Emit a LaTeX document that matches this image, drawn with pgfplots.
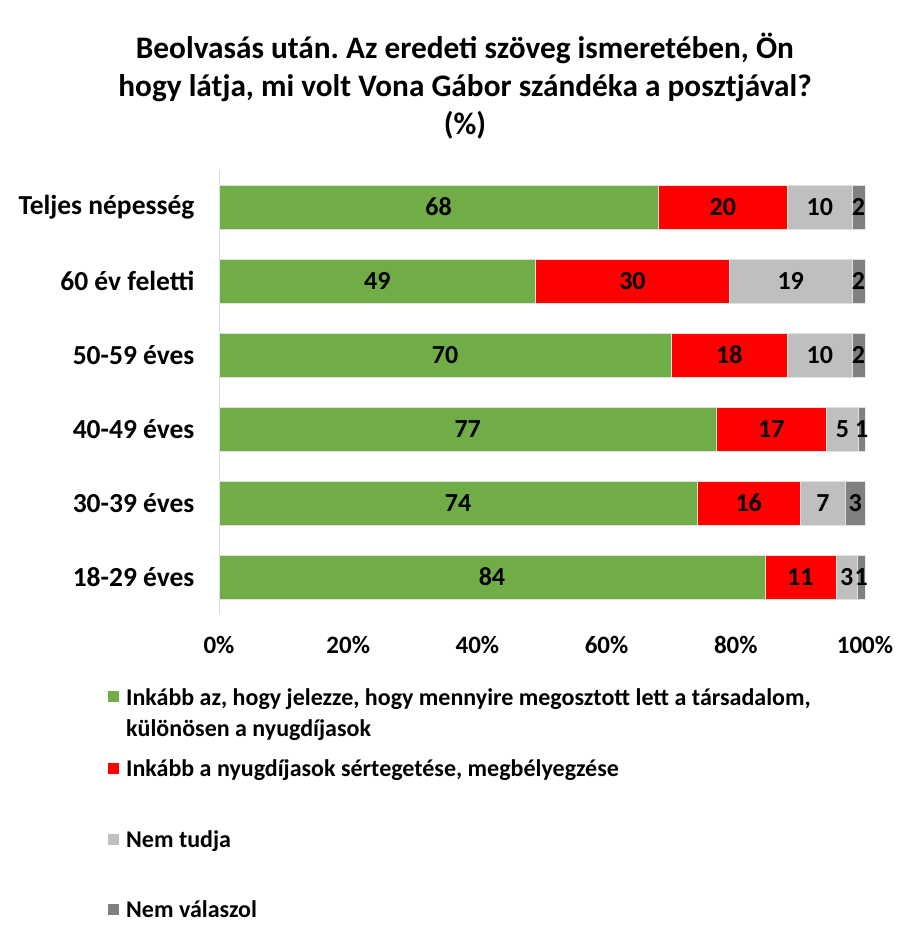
\documentclass[border=0pt]{standalone}
\usepackage{pgfplots}
\pgfplotsset{compat=1.18}
\usepackage{pgfplotstable}
\usepackage{fontspec}
\setmainfont{Carlito}
\frenchspacing
\definecolor{cgreen}{HTML}{70AD47}
\definecolor{cred}{HTML}{FF0000}
\definecolor{cltgray}{HTML}{BFBFBF}
\definecolor{cdkgray}{HTML}{808080}
\pgfplotstableread{
y a b c d la lb lc ld
0 68 20 10 2 68 20 10 2
1 49 30 19 2 49 30 19 2
2 70 18 10 2 70 18 10 2
3 77 17 5 1 77 17 5 1
4 74 16 7 3 74 16 7 3
5 84.5 11 3.3 1.2 84 11 3 1
}\data
\begin{document}
\begin{tikzpicture}
\path[use as bounding box] (0pt,0pt) rectangle (907pt,-939pt);
\node[align=center, font=\fontsize{31.3}{38}\selectfont\bfseries] at (465pt,-86pt)
 {Beolvasás után. Az eredeti szöveg ismeretében, Ön\\hogy látja, mi volt Vona Gábor szándéka a posztjával?\\(\%)};
\begin{axis}[
 at={(219pt,-614pt)}, anchor=south west,
 width=646pt, height=444pt, scale only axis,
 xbar stacked, bar width=44pt,
 xmin=0, xmax=100, ymin=-0.5, ymax=5.5, y dir=reverse,
 axis lines*=left,
 x axis line style={draw=none},
 y axis line style={draw=black!15, line width=1pt},
 xtick={0,20,...,100},
 xticklabels={0\%,20\%,40\%,60\%,80\%,100\%},
 ytick={0,...,5},
 yticklabels={Teljes népesség, 60 év feletti, 50-59 éves, 40-49 éves, 30-39 éves, 18-29 éves},
 major tick length=0pt,
 xticklabel style={font=\fontsize{25}{30}\selectfont\bfseries, text=black, yshift=-19pt},
 yticklabel style={font=\fontsize{27.5}{31}\selectfont\bfseries, text=black, xshift=-21pt},
 point meta=explicit symbolic,
 nodes near coords,
 every node near coord/.append style={font=\fontsize{26}{31}\selectfont\bfseries, text=black, anchor=center},
 legend cell align=left,
 legend style={at={(axis description cs:-0.1765,-0.164)}, anchor=north west, draw=none, fill=none,
   font=\fontsize{24}{31}\selectfont\bfseries, row sep=0pt,
   nodes={inner ysep=0pt, inner xsep=4pt, align=left}},
]
\addplot[fill=cgreen, draw=black!12, line width=0.75pt,
  legend image code/.code={\fill[cgreen,draw=none] (0pt,11.5pt) rectangle (11pt,22.5pt); \path[draw=none,fill=none] (0pt,-22.5pt) rectangle (14pt,22.5pt);}]
  table[x=a, y=y, meta=la]{\data};
\addplot[fill=cred, draw=black!12, line width=0.75pt,
  legend image code/.code={\fill[cred,draw=none] (0pt,-5.5pt) rectangle (11pt,5.5pt); \path[draw=none,fill=none] (0pt,-30.5pt) rectangle (14pt,30.5pt);}]
  table[x=b, y=y, meta=lb]{\data};
\addplot[fill=cltgray, draw=black!12, line width=0.75pt,
  legend image code/.code={\fill[cltgray,draw=none] (0pt,-5.5pt) rectangle (11pt,5.5pt); \path[draw=none,fill=none] (0pt,-40.5pt) rectangle (14pt,40.5pt);}]
  table[x=c, y=y, meta=lc]{\data};
\addplot[fill=cdkgray, draw=black!12, line width=0.75pt,
  legend image code/.code={\fill[cdkgray,draw=none] (0pt,-5.5pt) rectangle (11pt,5.5pt); \path[draw=none,fill=none] (0pt,-29.5pt) rectangle (14pt,29.5pt);}]
  table[x=d, y=y, meta=ld]{\data};
\legend{{Inkább az, hogy jelezze, hogy mennyire megosztott lett a társadalom,\\különösen a nyugdíjasok},
  {Inkább a nyugdíjasok sértegetése, megbélyegzése},
  {Nem tudja},
  {Nem válaszol}}
\end{axis}
\end{tikzpicture}
\end{document}
